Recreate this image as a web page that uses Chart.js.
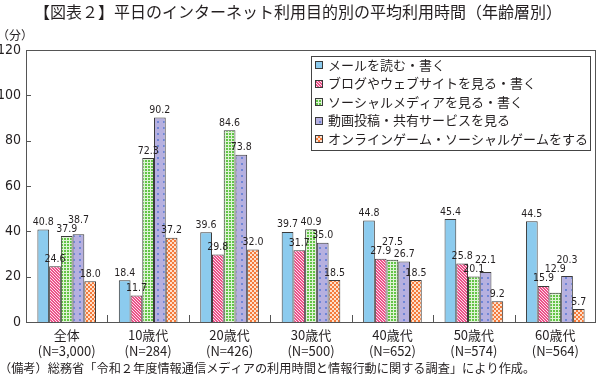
<!DOCTYPE html>
<html lang="ja">
<head>
<meta charset="utf-8">
<script src="https://cdn.jsdelivr.net/npm/chart.js@4.4.1/dist/chart.umd.min.js"></script>
<style>
  html, body { margin: 0; padding: 0; background: #fff; }
  #wrap { position: relative; width: 600px; height: 380px; }
</style>
</head>
<body>
<div id="wrap"><canvas id="chart" width="600" height="380"></canvas></div>
<script>
// data
const ageGroups = ['全体', '10歳代', '20歳代', '30歳代', '40歳代', '50歳代', '60歳代'];
const sampleSizes = ['(N=3,000)', '(N=284)', '(N=426)', '(N=500)', '(N=652)', '(N=574)', '(N=564)'];

const seriesNames = [
    'メールを読む・書く',
    'ブログやウェブサイトを見る・書く',
    'ソーシャルメディアを見る・書く',
    '動画投稿・共有サービスを見る',
    'オンラインゲーム・ソーシャルゲームをする'
];
const mailValues = [40.8, 18.4, 39.6, 39.7, 44.8, 45.4, 44.5];
const blogValues = [24.6, 11.7, 29.8, 31.7, 27.9, 25.8, 15.9];
const socialValues = [37.9, 72.3, 84.6, 40.9, 27.5, 20.1, 12.9];
const videoValues = [38.7, 90.2, 73.8, 35.0, 26.7, 22.1, 20.3];
const gameValues = [18.0, 37.2, 32.0, 18.5, 18.5, 9.2, 5.7];

const yTicks = [0, 20, 40, 60, 80, 100, 120];

const titleText = '【図表２】平日のインターネット利用目的別の平均利用時間（年齢層別）';
const unitText = '（分）';
const noteText = '（備考）総務省「令和２年度情報通信メディアの利用時間と情報行動に関する調査」により作成。';

const textColor = '#231f20';
const numFont = "'Liberation Sans Narrow', 'DejaVu Sans Condensed', sans-serif";
const jpFont = "'Noto Sans CJK JP', sans-serif";

// fill patterns
function makePattern(size, paint) {
    const c = document.createElement('canvas');
    c.width = size;
    c.height = size;
    const g = c.getContext('2d');
    paint(g, size);
    return g.createPattern(c, 'repeat');
}

const pctx = document.getElementById('chart').getContext('2d');

const fills = [
    '#8ccbee',
    makePattern(3, (g, s) => {
        g.fillStyle = '#fbe3ec';
        g.fillRect(0, 0, s, s);
        g.fillStyle = '#ec5189';
        for (let i = 0; i < s; i++) {
            g.fillRect(i, i, 1, 1);
            g.fillRect((i + 1) % s, i, 1, 1);
        }
    }),
    makePattern(3, (g, s) => {
        g.fillStyle = '#62c446';
        g.fillRect(0, 0, s, s);
        g.fillStyle = '#dff3d6';
        g.fillRect(0, 0, s, 1);
        g.fillRect(0, 0, 1, s);
    }),
    makePattern(6, (g, s) => {
        g.fillStyle = '#b6b0e0';
        g.fillRect(0, 0, s, s);
        g.fillStyle = '#6f86d6';
        g.fillRect(1, 1, 2, 2);
    }),
    makePattern(4, (g, s) => {
        g.fillStyle = '#f47a3a';
        g.fillRect(0, 0, s, s);
        g.fillStyle = '#fde0cc';
        g.fillRect(0, 0, 2, 2);
        g.fillRect(2, 2, 2, 2);
    })
];

const seriesValues = [mailValues, blogValues, socialValues, videoValues, gameValues];

const datasets = seriesNames.map((name, i) => ({
    label: name,
    data: seriesValues[i],
    backgroundColor: fills[i],
    borderColor: '#3a3a3a',
    borderWidth: 1,
    borderSkipped: 'bottom',
    barPercentage: 1,
    categoryPercentage: 0.72
}));

function overlaps(a, b) {
    return a.l < b.r && b.l < a.r && a.t < b.b && b.t < a.b;
}

const decorations = {
    id: 'decorations',
    afterDatasetsDraw(chart) {
        const ctx = chart.ctx;
        const area = chart.chartArea;
        ctx.save();

        // value labels, nudged apart when they collide
        ctx.fillStyle = textColor;
        ctx.font = `10.5px ${numFont}`;
        ctx.textAlign = 'center';
        ctx.textBaseline = 'bottom';
        ageGroups.forEach((_, j) => {
            const placed = [];
            chart.data.datasets.forEach((ds, i) => {
                const bar = chart.getDatasetMeta(i).data[j];
                const txt = ds.data[j].toFixed(1);
                const w = ctx.measureText(txt).width;
                let x = bar.x;
                let y = bar.y - 2;
                for (let pass = 0; pass < 3; pass++) {
                    placed.forEach(p => {
                        const box = { l: x - w / 2, r: x + w / 2, t: y - 8, b: y };
                        if (overlaps(box, p)) {
                            const dx = p.r - box.l + 0.5;
                            if (dx <= 5) {
                                x += dx;
                            } else {
                                y = p.t - 1;
                            }
                        }
                    });
                }
                placed.push({ l: x - w / 2, r: x + w / 2, t: y - 8, b: y });
                ctx.fillText(txt, x, y);
            });
        });

        // frame
        ctx.strokeStyle = '#555';
        ctx.lineWidth = 1;
        ctx.strokeRect(area.left + 0.5, area.top + 0.5, area.right - area.left - 1, area.bottom - area.top);

        // inward y ticks
        const yScale = chart.scales.y;
        ctx.beginPath();
        yTicks.forEach(v => {
            const py = Math.round(yScale.getPixelForValue(v)) + 0.5;
            ctx.moveTo(area.left, py);
            ctx.lineTo(area.left + 5, py);
        });
        // group separators
        const xScale = chart.scales.x;
        for (let k = 1; k < ageGroups.length; k++) {
            const px = Math.round((xScale.getPixelForValue(k - 1) + xScale.getPixelForValue(k)) / 2) + 0.5;
            ctx.moveTo(px, area.bottom);
            ctx.lineTo(px, area.bottom - 7);
        }
        ctx.stroke();

        // legend box
        const lx = area.right - 285;
        const ly = area.top + 6;
        ctx.fillStyle = '#fff';
        ctx.fillRect(lx, ly, 279, 94);
        ctx.strokeStyle = '#444';
        ctx.strokeRect(lx + 0.5, ly + 0.5, 279, 94);
        ctx.font = `13px ${jpFont}`;
        ctx.textAlign = 'left';
        ctx.textBaseline = 'middle';
        chart.data.datasets.forEach((ds, i) => {
            const cy = ly + 9 + i * 18.5;
            ctx.fillStyle = ds.backgroundColor;
            ctx.fillRect(lx + 4, Math.round(cy - 4), 8, 8);
            ctx.strokeStyle = '#3a3a3a';
            ctx.strokeRect(lx + 4.5, Math.round(cy - 4) + 0.5, 7, 7);
            ctx.fillStyle = textColor;
            ctx.fillText(ds.label, lx + 17, cy);
        });

        ctx.restore();
    },
    afterDraw(chart) {
        const ctx = chart.ctx;
        ctx.save();
        ctx.fillStyle = textColor;
        ctx.textBaseline = 'middle';
        ctx.font = `16px ${jpFont}`;
        ctx.textAlign = 'center';
        ctx.fillText(titleText, 298, 12);
        ctx.font = `12px ${jpFont}`;
        ctx.textAlign = 'left';
        ctx.fillText(unitText, -3, 35);
        ctx.font = `12.2px ${jpFont}`;
        ctx.fillText(noteText, -1, 368);
        ctx.restore();
    }
};

new Chart(pctx, {
    type: 'bar',
    data: {
        labels: ageGroups.map((g, i) => [g, sampleSizes[i]]),
        datasets: datasets
    },
    options: {
        responsive: false,
        animation: false,
        layout: { padding: { top: 50, right: 4, bottom: 0, left: 0 } },
        plugins: {
            legend: { display: false },
            title: { display: false },
            tooltip: { enabled: false }
        },
        scales: {
            x: {
                offset: true,
                grid: { display: false, drawTicks: false },
                border: { display: false },
                ticks: {
                    color: textColor,
                    padding: 5,
                    maxRotation: 0,
                    autoSkip: false,
                    font: { family: "'Liberation Sans Narrow', 'Noto Sans CJK JP', sans-serif", size: 13, lineHeight: 1.25 }
                },
                afterFit(scale) { scale.height = 58; }
            },
            y: {
                min: 0,
                max: 120,
                grid: { display: false, drawTicks: false },
                border: { display: false },
                ticks: {
                    stepSize: 20,
                    color: textColor,
                    padding: 5,
                    font: { family: numFont, size: 14 }
                },
                afterFit(scale) { scale.width = 26; }
            }
        }
    },
    plugins: [decorations]
});
</script>
</body>
</html>
